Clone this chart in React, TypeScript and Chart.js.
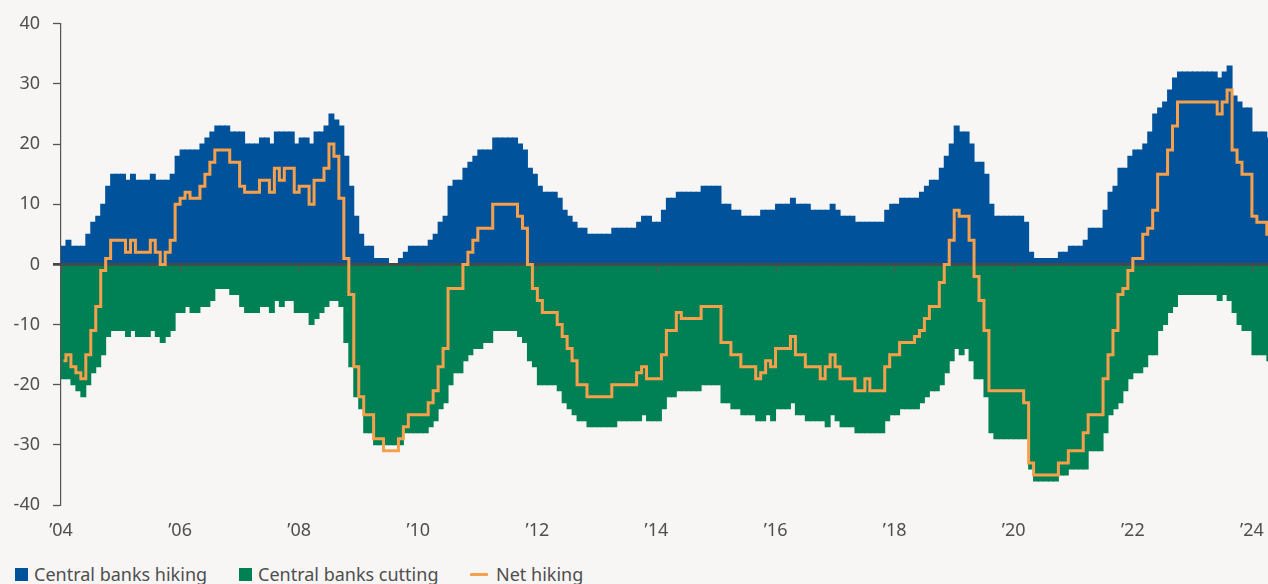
import React, { useEffect, useRef } from "react";
import { Chart, registerables } from "chart.js";

Chart.register(...registerables);

const START_YEAR = 2004;

// Monthly counts, Jan 2004 .. Apr 2024
const hiking = [
  3, 4, 3, 3, 3, 5, 7, 8, 10, 13, 15, 15,
  15, 14, 15, 14, 14, 14, 15, 14, 14, 14, 15, 18,
  19, 19, 19, 19, 20, 21, 22, 23, 23, 23, 22, 22,
  22, 20, 20, 20, 21, 21, 20, 22, 22, 22, 22, 20,
  21, 21, 20, 22, 22, 23, 25, 24, 23, 18, 13, 8,
  5, 3, 3, 1, 1, 1, 0, 0, 1, 2, 3, 3,
  3, 3, 4, 5, 7, 8, 13, 14, 14, 16, 17, 18,
  19, 19, 19, 21, 21, 21, 21, 21, 20, 19, 16, 15,
  13, 12, 12, 12, 11, 9, 8, 7, 6, 6, 5, 5,
  5, 5, 5, 6, 6, 6, 6, 6, 7, 8, 8, 7,
  7, 9, 11, 11, 12, 12, 12, 12, 12, 13, 13, 13,
  13, 10, 10, 9, 9, 8, 8, 8, 8, 9, 9, 9,
  10, 10, 10, 11, 10, 10, 10, 9, 9, 9, 9, 10,
  9, 8, 8, 8, 7, 7, 7, 7, 7, 7, 9, 10,
  10, 11, 11, 11, 11, 12, 13, 14, 14, 16, 18, 20,
  23, 22, 22, 20, 17, 17, 15, 10, 8, 8, 8, 8,
  8, 8, 7, 2, 1, 1, 1, 1, 1, 2, 2, 3,
  3, 3, 4, 6, 6, 6, 9, 12, 13, 16, 16, 18,
  19, 19, 20, 22, 25, 26, 27, 29, 31, 32, 32, 32,
  32, 32, 32, 32, 32, 31, 32, 33, 28, 27, 26, 26,
  22, 22, 22, 21,
];

const cutting = [
  -19, -19, -20, -21, -22, -20, -18, -17, -15, -12, -11, -11,
  -11, -12, -11, -12, -12, -12, -11, -12, -13, -12, -11, -8,
  -8, -7, -8, -8, -7, -7, -6, -4, -4, -4, -5, -5,
  -7, -8, -8, -8, -7, -7, -8, -6, -7, -6, -6, -8,
  -8, -8, -10, -9, -8, -7, -6, -6, -7, -13, -17, -22,
  -24, -28, -28, -30, -30, -30, -30, -30, -30, -28, -28, -28,
  -28, -28, -27, -26, -24, -23, -20, -18, -18, -16, -15, -14,
  -14, -13, -13, -11, -11, -11, -11, -11, -12, -13, -16, -17,
  -20, -20, -20, -20, -21, -23, -24, -25, -26, -26, -27, -27,
  -27, -27, -27, -27, -26, -26, -26, -26, -26, -25, -26, -26,
  -26, -24, -22, -22, -21, -21, -21, -21, -21, -20, -20, -20,
  -20, -23, -23, -24, -24, -25, -25, -25, -26, -26, -25, -26,
  -24, -24, -24, -23, -25, -25, -26, -26, -26, -26, -27, -25,
  -26, -27, -27, -27, -28, -28, -28, -28, -28, -28, -26, -25,
  -25, -24, -24, -24, -24, -23, -22, -21, -21, -20, -18, -16,
  -14, -15, -14, -16, -19, -19, -22, -28, -29, -29, -29, -29,
  -29, -29, -29, -34, -36, -36, -36, -36, -36, -35, -35, -34,
  -34, -34, -34, -31, -31, -31, -28, -25, -24, -23, -21, -19,
  -18, -18, -17, -15, -15, -11, -10, -8, -7, -5, -5, -5,
  -5, -5, -5, -5, -5, -6, -5, -6, -8, -10, -11, -11,
  -15, -15, -15, -16,
];

const netHiking = [
  -16, -15, -17, -18, -19, -15, -11, -7, -1, 1, 4, 4,
  4, 2, 4, 2, 2, 2, 4, 2, 0, 2, 4, 10,
  11, 12, 11, 11, 13, 15, 17, 19, 19, 19, 17, 17,
  13, 12, 12, 12, 14, 14, 12, 16, 14, 16, 16, 12,
  13, 13, 10, 14, 14, 16, 20, 18, 11, 1, -5, -17,
  -22, -25, -25, -29, -29, -31, -31, -31, -29, -27, -25, -25,
  -25, -25, -23, -21, -17, -14, -4, -4, -4, 0, 2, 4,
  6, 6, 6, 10, 10, 10, 10, 10, 8, 6, 0, -4,
  -6, -8, -8, -8, -10, -12, -14, -16, -20, -20, -22, -22,
  -22, -22, -22, -20, -20, -20, -20, -20, -18, -17, -19, -19,
  -19, -15, -11, -11, -8, -9, -9, -9, -9, -7, -7, -7,
  -7, -13, -13, -15, -15, -17, -17, -17, -19, -18, -16, -17,
  -14, -14, -14, -12, -15, -15, -17, -17, -17, -19, -17, -15,
  -17, -19, -19, -19, -21, -21, -19, -21, -21, -21, -17, -15,
  -15, -13, -13, -13, -12, -11, -9, -7, -7, -3, 0, 4,
  9, 8, 8, 4, -2, -6, -11, -21, -21, -21, -21, -21,
  -21, -21, -23, -33, -35, -35, -35, -35, -35, -33, -33, -31,
  -31, -31, -28, -25, -25, -25, -19, -15, -11, -5, -4, -1,
  1, 1, 5, 6, 9, 15, 15, 19, 23, 27, 27, 27,
  27, 27, 27, 27, 27, 25, 27, 29, 19, 17, 15, 15,
  8, 7, 7, 5,
];

const tickYears = [2004, 2006, 2008, 2010, 2012, 2014, 2016, 2018, 2020, 2022, 2024];
const tickLabels = ["’04", "’06", "’08", "’10", "’12", "’14", "’16", "’18", "’20", "’22", "’24"];

const seriesNames = ["Central banks hiking", "Central banks cutting", "Net hiking"];

const BLUE = "#00529b";
const GREEN = "#008055";
const ORANGE = "#f7a04b";
const BG = "#f7f6f4";
const TEXT = "#4f4f4f";
const AXIS = "#555555";
const FONT = "'Noto Sans', sans-serif";

const monthX = hiking.map((_, i) => START_YEAR + (i + 0.5) / 12);

const zeroLinePlugin = {
  id: "zeroLine",
  afterDatasetDraw(chart: any, args: any) {
    if (args.index !== 0) return;
    const { ctx, chartArea, scales } = chart;
    const y0 = scales.y.getPixelForValue(0);
    ctx.save();
    ctx.strokeStyle = AXIS;
    ctx.lineWidth = 1.2;
    for (const t of scales.x.ticks) {
      const x = Math.round(scales.x.getPixelForValue(t.value)) + 0.5;
      ctx.beginPath();
      ctx.moveTo(x, y0);
      ctx.lineTo(x, y0 + 8);
      ctx.stroke();
    }
    ctx.strokeStyle = "#474747";
    ctx.lineWidth = 2.6;
    ctx.beginPath();
    ctx.moveTo(chartArea.left - 8, y0);
    ctx.lineTo(chartArea.right, y0);
    ctx.stroke();
    ctx.restore();
  },
};

export default function App() {
  const canvasRef = useRef<HTMLCanvasElement | null>(null);

  useEffect(() => {
    document.body.style.margin = "0";
    document.body.style.background = BG;
    const canvas = canvasRef.current;
    if (!canvas) return;
    const chart = new Chart(canvas, {
      type: "bar",
      data: {
        datasets: [
          {
            type: "bar",
            label: seriesNames[0],
            data: monthX.map((x, i) => ({ x, y: hiking[i] })),
            backgroundColor: BLUE,
            borderWidth: 0,
            inflateAmount: 0.5,
            barPercentage: 1,
            categoryPercentage: 1,
            grouped: false,
            order: 1,
          } as any,
          {
            type: "bar",
            label: seriesNames[1],
            data: monthX.map((x, i) => ({ x, y: cutting[i] })),
            backgroundColor: GREEN,
            borderWidth: 0,
            inflateAmount: 0.5,
            barPercentage: 1,
            categoryPercentage: 1,
            grouped: false,
            order: 1,
          } as any,
          {
            type: "line",
            label: seriesNames[2],
            data: monthX.map((x, i) => ({ x, y: netHiking[i] })),
            borderColor: ORANGE,
            borderWidth: 3,
            pointRadius: 0,
            stepped: "middle",
            fill: false,
            order: 0,
          } as any,
        ],
      },
      options: {
        animation: false,
        responsive: false,
        layout: { padding: { top: 10, right: 0, bottom: 0, left: 0 } },
        plugins: {
          legend: { display: false },
          tooltip: { enabled: false },
        },
        scales: {
          x: {
            type: "linear",
            min: START_YEAR,
            max: 2024.27,
            offset: false,
            afterBuildTicks: (scale: any) => {
              scale.ticks = tickYears.map((v) => ({ value: v }));
            },
            afterFit: (scale: any) => {
              scale.height = 40;
              scale.paddingRight = 0;
              scale.paddingLeft = 0;
            },
            grid: { display: false, drawTicks: false },
            border: { display: false },
            ticks: {
              autoSkip: false,
              maxRotation: 0,
              padding: 15,
              color: TEXT,
              font: { family: FONT, size: 18 },
              callback: (v: any) => {
                const i = tickYears.indexOf(Math.round(Number(v)));
                return i >= 0 ? tickLabels[i] : "";
              },
            },
          },
          y: {
            min: -40,
            max: 40,
            afterFit: (scale: any) => {
              scale.width = 61;
            },
            grid: {
              drawOnChartArea: false,
              drawTicks: true,
              tickLength: 8,
              tickColor: AXIS,
              tickWidth: 1.3,
            },
            border: { display: true, color: AXIS, width: 1.2 },
            ticks: {
              stepSize: 10,
              padding: 13,
              color: TEXT,
              font: { family: FONT, size: 18 },
              callback: (v: any) => String(v),
            },
          },
        },
      },
      plugins: [zeroLinePlugin],
    });
    return () => chart.destroy();
  }, []);

  const legendText: React.CSSProperties = {
    position: "absolute",
    top: 0,
    fontFamily: FONT,
    fontSize: 18,
    color: TEXT,
    lineHeight: "22px",
    whiteSpace: "nowrap",
  };

  return (
    <div
      style={{
        position: "fixed",
        left: 0,
        top: 0,
        width: 1268,
        height: 584,
        background: BG,
        overflow: "hidden",
      }}
    >
      <canvas ref={canvasRef} width={1268} height={545} style={{ display: "block" }} />
      <div style={{ position: "absolute", left: 0, top: 563, width: 1268, height: 22 }}>
        <div style={{ position: "absolute", left: 15, top: 5, width: 13, height: 13, background: BLUE }} />
        <div style={{ ...legendText, left: 34 }}>{seriesNames[0]}</div>
        <div style={{ position: "absolute", left: 239, top: 5, width: 13, height: 13, background: GREEN }} />
        <div style={{ ...legendText, left: 258 }}>{seriesNames[1]}</div>
        <div style={{ position: "absolute", left: 470, top: 10, width: 18, height: 3, background: ORANGE, borderRadius: 1 }} />
        <div style={{ ...legendText, left: 496 }}>{seriesNames[2]}</div>
      </div>
    </div>
  );
}
